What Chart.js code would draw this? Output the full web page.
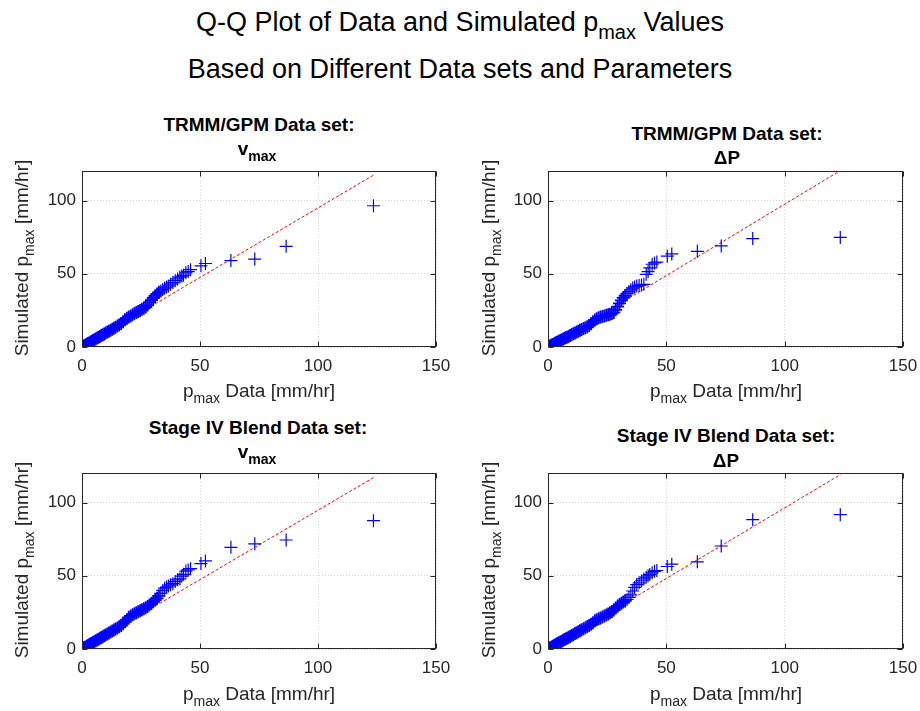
<!DOCTYPE html>
<html>
<head>
<meta charset="utf-8">
<script src="https://cdn.jsdelivr.net/npm/chart.js@4.4.1/dist/chart.umd.min.js"></script>
<style>
html, body { margin: 0; padding: 0; background: #fff; }
#fig { position: relative; width: 920px; height: 711px; overflow: hidden; background: #fff;
    font-family: "Liberation Sans", Arial, Helvetica, sans-serif; }
#fig canvas { position: absolute; }
.txt { position: absolute; transform: translate(-50%, -50%); white-space: nowrap; line-height: 1; color: #262626; }
.sup { font-size: 27px; color: #000; }
.ttl { font-size: 19px; font-weight: bold; color: #000; }
.lbl { font-size: 19px; }
.ylbl { transform: translate(-50%, -50%) rotate(-90deg); }
.sub { font-size: 0.74em; position: relative; top: 0.4em; }
</style>
</head>
<body>
<div id="fig"></div>
<script>
// observed p_max quantiles (same for all four panels)
const pmaxData = [0.2, 0.6, 1.0, 1.5, 2.0, 2.5, 3.0, 3.5, 4.0, 4.6, 5.2, 5.8, 6.4, 7.0, 7.6, 8.2, 8.8, 9.4, 10.0,
    10.7, 11.4, 12.1, 12.8, 13.5, 14.2, 15.0, 15.8, 16.6, 17.4, 18.2, 19.0, 19.8, 20.6, 21.4, 22.2, 23.0, 23.8, 24.6,
    25.4, 26.2, 27.0, 27.8, 28.6, 29.4, 30.2, 31.0, 31.8, 32.6, 33.4, 34.2, 35.0, 35.8, 36.6, 37.5, 38.5, 39.5, 40.5,
    41.5, 42.3, 43.0, 44.0, 45.0, 46.0, 50.4, 52.3, 63.1, 73.2, 86.5, 123.5];

// simulated p_max quantiles
const simTrmmVmax = [0.2, 0.6, 0.9, 1.4, 1.9, 2.4, 2.8, 3.3, 3.8, 4.4, 4.9, 5.5, 6.1, 6.6, 7.2, 7.8, 8.4, 8.9, 9.5,
    10.2, 10.8, 11.5, 12.2, 12.8, 13.5, 14.3, 15.1, 16.0, 17.2, 18.6, 19.6, 20.4, 21.2, 22.0, 22.8, 23.5, 24.2, 24.9,
    25.7, 26.4, 27.3, 28.6, 30.5, 32.0, 33.5, 35.0, 36.2, 37.3, 38.3, 39.2, 40.1, 40.9, 41.7, 42.9, 44.0, 45.3, 46.5,
    47.7, 48.4, 49.0, 50.6, 51.5, 52.8, 55.4, 57.0, 59.0, 60.0, 68.7, 96.4];
const simTrmmDp = [0.2, 0.5, 0.8, 1.3, 1.7, 2.1, 2.5, 3.0, 3.4, 3.9, 4.4, 4.9, 5.4, 5.9, 6.4, 6.9, 7.4, 7.9, 8.5,
    9.1, 9.6, 10.2, 10.8, 11.4, 12.0, 12.6, 13.2, 13.9, 14.7, 15.8, 17.2, 18.4, 19.3, 19.9, 20.4, 20.8, 21.2, 21.6,
    22.0, 22.4, 22.8, 23.6, 25.4, 27.6, 29.8, 31.8, 33.5, 35.0, 36.6, 37.8, 39.0, 40.2, 41.0, 41.6, 42.0, 42.4, 42.8,
    49.6, 51.5, 54.0, 56.5, 57.4, 58.0, 62.0, 63.5, 65.3, 69.0, 74.0, 74.8];
const simStageVmax = [0.2, 0.6, 1.0, 1.4, 1.9, 2.4, 2.9, 3.4, 3.8, 4.4, 5.0, 5.6, 6.1, 6.7, 7.3, 7.9, 8.4, 9.0, 9.6,
    10.3, 10.9, 11.6, 12.3, 13.0, 13.6, 14.4, 15.2, 16.0, 17.2, 18.6, 20.0, 21.6, 22.6, 23.4, 24.1, 24.8, 25.5, 26.1,
    26.8, 27.4, 28.1, 29.0, 30.0, 31.0, 32.2, 33.4, 34.6, 36.2, 38.0, 40.0, 41.5, 42.3, 43.0, 43.8, 44.6, 46.0, 47.2,
    47.8, 49.8, 51.0, 53.2, 54.0, 54.8, 58.3, 60.1, 69.4, 71.8, 74.4, 87.6];
const simStageDp = [0.2, 0.6, 0.9, 1.4, 1.8, 2.3, 2.8, 3.2, 3.7, 4.2, 4.8, 5.3, 5.9, 6.4, 7.0, 7.5, 8.1, 8.6, 9.2,
    9.8, 10.5, 11.1, 11.8, 12.4, 13.1, 13.8, 14.5, 15.3, 16.0, 16.9, 18.0, 19.3, 20.0, 20.6, 21.2, 21.8, 22.5, 23.2,
    23.9, 24.7, 25.6, 26.6, 28.0, 29.3, 30.3, 31.2, 32.0, 32.8, 33.8, 35.2, 37.0, 39.6, 42.0, 44.0, 45.2, 46.6, 47.8,
    49.0, 50.0, 50.8, 52.0, 53.0, 53.6, 56.3, 57.9, 59.5, 70.3, 88.3, 91.7];

// reference lines (end points)
const refX = [0, 123.5];
const refTrmmVmax = [0, 117.3];
const refTrmmDp = [0, 120.4];
const refStageVmax = [0, 117.0];
const refStageDp = [0, 119.0];

const xTicks = [0, 50, 100, 150];
const yTicks = [0, 50, 100];

const fig = document.getElementById("fig");
const FONT = '"Liberation Sans", Arial, Helvetica, sans-serif';
const AX = "#262626";

const addText = (cls, x, y, html) => {
    const d = document.createElement("div");
    d.className = "txt " + cls;
    d.style.left = x + "px";
    d.style.top = y + "px";
    d.innerHTML = html;
    fig.appendChild(d);
};

const pts = (xs, ys) => xs.map((x, i) => ({ x, y: ys[i] }));

// box around the axes plus inward tick marks
const boxPlugin = {
    id: "box",
    afterDatasetsDraw(chart) {
        const { ctx, chartArea: a, scales } = chart;
        const L = Math.round(a.left) + 0.5, T = Math.round(a.top) + 0.5;
        const R = Math.round(a.right) - 0.5, B = Math.round(a.bottom) - 0.5;
        ctx.save();
        ctx.strokeStyle = AX;
        ctx.lineWidth = 1;
        ctx.strokeRect(L, T, R - L, B - T);
        ctx.beginPath();
        scales.x.ticks.forEach(t => {
            const px = Math.round(scales.x.getPixelForValue(t.value)) + 0.5;
            ctx.moveTo(px, B); ctx.lineTo(px, B - 5);
            ctx.moveTo(px, T); ctx.lineTo(px, T + 5);
        });
        scales.y.ticks.forEach(t => {
            const py = Math.round(scales.y.getPixelForValue(t.value)) + 0.5;
            ctx.moveTo(L, py); ctx.lineTo(L + 5, py);
            ctx.moveTo(R, py); ctx.lineTo(R - 5, py);
        });
        ctx.stroke();
        ctx.restore();
    }
};

const panels = [
    { left: 82, top: 169, w: 354, h: 178, sim: simTrmmVmax, ref: refTrmmVmax },
    { left: 548, top: 169, w: 355, h: 178, sim: simTrmmDp, ref: refTrmmDp },
    { left: 82, top: 471, w: 354, h: 178, sim: simStageVmax, ref: refStageVmax },
    { left: 548, top: 471, w: 355, h: 178, sim: simStageDp, ref: refStageDp }
];

const PAD_L = 70, PAD_T = 14, PAD_R = 25, PAD_B = 40;

function makePanel(p) {
    const cv = document.createElement("canvas");
    cv.width = p.w + PAD_L + PAD_R;
    cv.height = p.h + PAD_T + PAD_B;
    cv.style.left = (p.left - PAD_L) + "px";
    cv.style.top = (p.top - PAD_T) + "px";
    fig.appendChild(cv);

    const tickFont = { family: FONT, size: 17 };
    return new Chart(cv, {
        type: "scatter",
        data: {
            datasets: [
                { data: pts(pmaxData, p.sim), pointStyle: "cross", pointRadius: 6.5, pointHoverRadius: 6.5,
                    borderColor: "#0000ff", backgroundColor: "#0000ff",
                    // the crowded lower part reads as a solid band in the original
                    borderWidth: c => (c.raw && c.raw.x < 33 ? 1.8 : 1.2), order: 1 },
                { type: "line", data: pts(refX, p.ref), borderColor: "#ff0000", borderWidth: 1,
                    borderDash: [3, 2], pointRadius: 0, fill: false, order: 2 }
            ]
        },
        options: {
            responsive: false,
            animation: false,
            devicePixelRatio: 1,
            layout: { padding: { left: 0, top: PAD_T, right: PAD_R, bottom: 0 } },
            plugins: { legend: { display: false }, tooltip: { enabled: false } },
            scales: {
                x: {
                    type: "linear", min: 0, max: 150,
                    afterBuildTicks: s => { s.ticks = xTicks.map(v => ({ value: v })); },
                    afterFit: s => { s.height = PAD_B; },
                    ticks: { font: tickFont, color: AX, padding: 9, maxRotation: 0 },
                    grid: { color: "#d4d4d4", lineWidth: 1, drawTicks: false },
                    border: { display: false, dash: [1, 2] }
                },
                y: {
                    type: "linear", min: 0, max: 120,
                    afterBuildTicks: s => { s.ticks = yTicks.map(v => ({ value: v })); },
                    afterFit: s => { s.width = PAD_L; },
                    ticks: { font: tickFont, color: AX, padding: 6 },
                    grid: { color: "#d4d4d4", lineWidth: 1, drawTicks: false },
                    border: { display: false, dash: [1, 2] }
                }
            }
        },
        plugins: [boxPlugin]
    });
}

panels.forEach(makePanel);

// figure title
addText("sup", 460, 22, 'Q-Q Plot of Data and Simulated p<span class="sub">max</span> Values');
addText("sup", 460, 69, "Based on Different Data sets and Parameters");

// panel titles
addText("ttl", 259, 124, "TRMM/GPM Data set:");
addText("ttl", 257, 148, 'v<span class="sub">max</span>');
addText("ttl", 727, 133, "TRMM/GPM Data set:");
addText("ttl", 727, 157, "&Delta;P");
addText("ttl", 258, 427, "Stage IV Blend Data set:");
addText("ttl", 257, 451, 'v<span class="sub">max</span>');
addText("ttl", 726, 435, "Stage IV Blend Data set:");
addText("ttl", 726, 460, "&Delta;P");

// axis labels
const xLab = 'p<span class="sub">max</span> Data [mm/hr]';
const yLab = 'Simulated p<span class="sub">max</span> [mm/hr]';
addText("lbl", 259, 390, xLab);
addText("lbl", 726, 390, xLab);
addText("lbl", 259, 693, xLab);
addText("lbl", 726, 693, xLab);
addText("lbl ylbl", 21, 258, yLab);
addText("lbl ylbl", 488, 258, yLab);
addText("lbl ylbl", 21, 560, yLab);
addText("lbl ylbl", 488, 560, yLab);
</script>
</body>
</html>
